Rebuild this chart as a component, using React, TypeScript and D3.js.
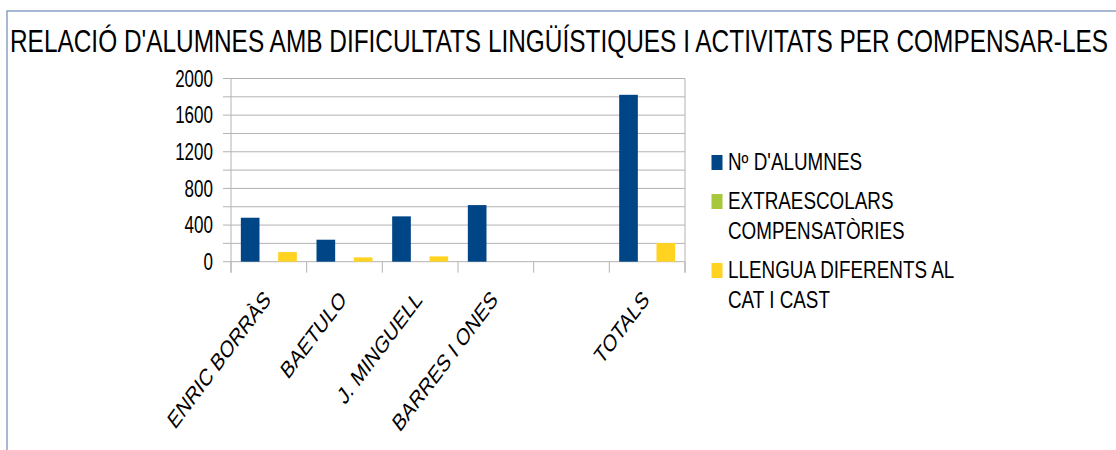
import React from 'react'
import * as d3 from 'd3'

const title = "RELACIÓ D'ALUMNES AMB DIFICULTATS LINGÜÍSTIQUES I ACTIVITATS PER COMPENSAR-LES"
const categories = ['ENRIC BORRÀS', 'BAETULO', 'J. MINGUELL', 'BARRES I ONES', '', 'TOTALS']
const alumnes = [480, 240, 495, 618, 0, 1822]
const extraescolars = [0, 0, 0, 0, 0, 0]
const llengua = [105, 47, 58, 0, 0, 204]
const seriesNames = ['alumnes', 'extra', 'llengua']
const seriesColors = ['#004586', '#a6c83a', '#ffd320']
const legendLabels = [["Nº D'ALUMNES"], ['EXTRAESCOLARS', 'COMPENSATÒRIES'], ['LLENGUA DIFERENTS AL', 'CAT I CAST']]
const yTicks = [0, 400, 800, 1200, 1600, 2000]
const yGrid = d3.range(0, 2001, 200)

const font = '"Liberation Sans", Arial, sans-serif'

export default function App() {
  const W = 1116
  const H = 450
  const left = 231
  const right = 685
  const top = 78.5
  const bottom = 261.7

  const x0 = d3.scaleBand<number>()
    .domain(d3.range(categories.length))
    .range([left, right])
    .paddingInner(0.26)
    .paddingOuter(0.13)
  const x1 = d3.scaleBand<string>().domain(seriesNames).range([0, x0.bandwidth()])
  const y = d3.scaleLinear().domain([0, 2000]).range([bottom, top])

  const values = [alumnes, extraescolars, llengua]
  const step = x0.step()
  const bounds = d3.range(categories.length + 1).map(i => left + i * step)

  // legend rows: first baseline and spacing
  let ly = 170
  const legendRows = legendLabels.map(lines => {
    const row = { y: ly, lines }
    ly += 39 + (lines.length - 1) * 30
    return row
  })

  const titleScale = 0.775

  return (
    <svg width={W} height={H} style={{ position: 'absolute', left: 0, top: 0 }} fontFamily={font}>
      <rect width={W} height={H} fill="#fff" />
      <path d={`M7,${H}V11H${W}`} fill="none" stroke="#8aa3c4" strokeWidth={1.5} />

      <g transform={`translate(10,52) scale(${titleScale},1)`}>
        <text x={0} y={0} fontSize={31} textLength={1098 / titleScale} lengthAdjust="spacingAndGlyphs" fill="#000">{title}</text>
      </g>

      {/* grid */}
      {yGrid.map(v => (
        <line key={v} x1={left - 8} x2={right} y1={y(v)} y2={y(v)} stroke="#b3b3b3" strokeWidth={1} />
      ))}
      <line x1={left} x2={left} y1={top} y2={bottom + 11} stroke="#b3b3b3" />
      <line x1={right} x2={right} y1={top} y2={bottom + 11} stroke="#b3b3b3" />
      {bounds.map((b, i) => (
        <line key={i} x1={b} x2={b} y1={bottom} y2={bottom + 11} stroke="#b3b3b3" />
      ))}

      {yTicks.map(v => (
        <text key={v} transform={`translate(213,${y(v)}) scale(0.74,1)`} textAnchor="end" dy="0.36em" fontSize={23} fill="#000">{v}</text>
      ))}

      {/* bars */}
      {values.map((arr, s) => arr.map((v, i) => (
        v > 0 ? (
          <rect key={`${s}-${i}`} x={(x0(i) as number) + (x1(seriesNames[s]) as number)} y={y(v)}
            width={x1.bandwidth()} height={bottom - y(v)} fill={seriesColors[s]} />
        ) : null
      )))}

      {/* category labels */}
      {categories.map((c, i) => (
        <text key={i} transform={`translate(${(x0(i) as number) + x0.bandwidth() / 2 + 3},301) scale(0.75,1) rotate(-45)`}
          textAnchor="end" fontSize={24} fill="#000">{c}</text>
      ))}

      {/* legend */}
      {legendRows.map((r, s) => (
        <g key={s}>
          <rect x={711.5} y={r.y - 15} width={11} height={15} fill={seriesColors[s]} />
          {r.lines.map((t, k) => (
            <text key={k} transform={`translate(728,${r.y + k * 30}) scale(0.82,1)`} fontSize={23} fill="#000">{t}</text>
          ))}
        </g>
      ))}
    </svg>
  )
}
